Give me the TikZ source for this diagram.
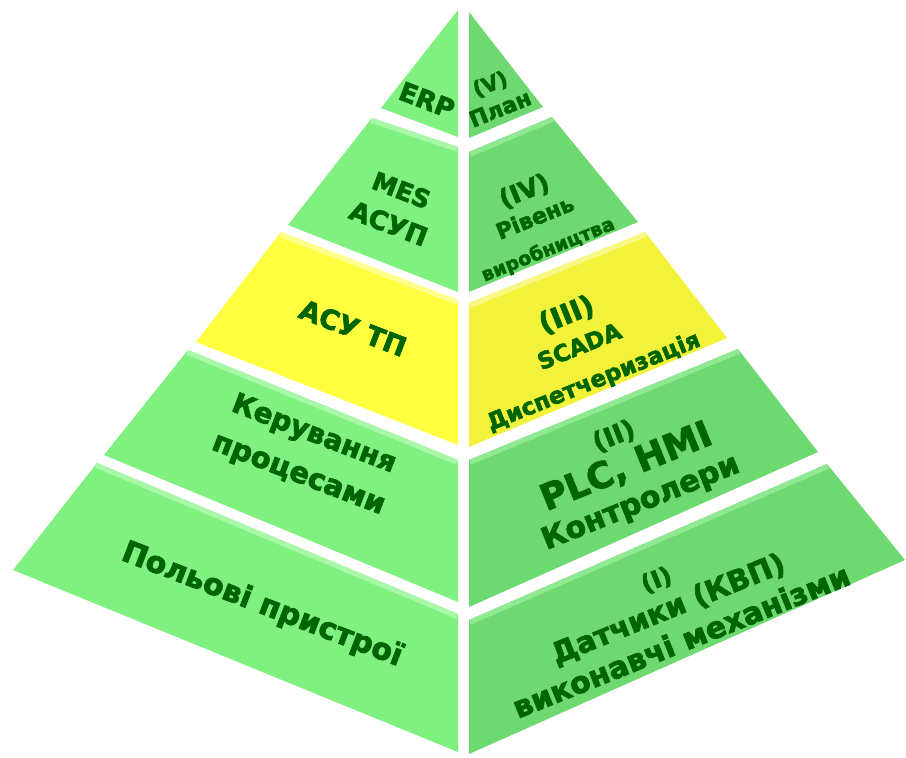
\documentclass[tikz,border=0pt]{standalone}
\usepackage{fontspec}
\setmainfont{DejaVu Sans}
\newfontfamily\heavy{DejaVu Sans}[BoldFeatures={FakeBold=2.5}]
\definecolor{gL}{HTML}{80F080}
\definecolor{gLb}{HTML}{A8F8A8}
\definecolor{gR}{HTML}{6DD970}
\definecolor{gRb}{HTML}{90E892}
\definecolor{yL}{HTML}{FFFF40}
\definecolor{yLb}{HTML}{FFFF90}
\definecolor{yR}{HTML}{F2F23A}
\definecolor{yRb}{HTML}{F8F886}
\definecolor{txt}{HTML}{006400}
\newcommand\fsz[1]{\fontsize{#1}{#1}\selectfont}
\newcommand\bskip[2]{\heavy\bfseries\fontsize{#1}{#2}\selectfont}
\newcommand\slab[6]{%
  \fill[#1] #3 -- #4 -- #5 -- #6 -- cycle;
  \begin{scope}
    \clip #3 -- #4 -- #5 -- #6 -- cycle;
    \draw[#2, line width=10pt] #3 -- #4;
  \end{scope}}
\tikzset{
  lbl/.style={inner sep=0pt, text=txt, align=center},
  lft/.style={lbl, rotate=-21},
  rgt/.style={lbl, rotate=22},
}
\begin{document}
\begin{tikzpicture}[x=1pt, y=-1pt]
\useasboundingbox (0,0) rectangle (906,758);
\fill[white] (0,0) rectangle (906,758);
% left face
\fill[gL] (458,10) -- (458,137) -- (381,108) -- cycle;
\slab{gL}{gLb}{(372,118)}{(458,147)}{(458,292)}{(288,225)}
\slab{yL}{yLb}{(281,232)}{(458,300)}{(458,445)}{(196,342)}
\slab{gL}{gLb}{(188,350)}{(458,460)}{(458,602)}{(104,455)}
\slab{gL}{gLb}{(97,463)}{(458,614)}{(458,752)}{(13,570)}
% right face
\fill[gR] (469,12) -- (543,107) -- (469,138) -- cycle;
\slab{gR}{gRb}{(469,152)}{(552,117)}{(638,222)}{(469,292)}
\slab{yR}{yRb}{(469,303)}{(645,232)}{(727,338)}{(469,447)}
\slab{gR}{gRb}{(469,460)}{(738,349)}{(818,452)}{(469,607)}
\slab{gR}{gRb}{(469,620)}{(827,464)}{(905,560)}{(469,754)}
% left labels
\node[lft, font=\bskip{26}{30}] (erp) at (427,100) {ERP};
\node[lft, font=\bskip{26}{36}] (mes) at (395,207) {\fsz{25}MES\\\fsz{26}АСУП};
\node[lft, font=\bskip{27}{32}] (asutp) at (353,328) {АСУ ТП};
\node[lft, font=\bskip{28}{43}] (ker) at (306,455) {\fsz{28}Керування\\\fsz{29}процесами};
\node[lft, font=\bskip{30}{36}] (pol) at (262,605) {Польові пристрої};
% right labels
\node[rgt, font=\bskip{21}{27}] (plan) at (495,96) {\fsz{21}(V)\\\fsz{22}План};
\node[rgt, font=\bskip{22}{28}] (riv) at (536,220) {\fsz{25}(IV)\\\fsz{22}Рівень\\[5pt]\fsz{19}виробництва};
\node[rgt, font=\bskip{23}{33}] (scada) at (580,348) {\fsz{28}(III)\\\fsz{23}SCADA\\[4pt]\fsz{23}Диспетчеризація};
\node[rgt, font=\bskip{30}{36}] (plc) at (628,471) {\fsz{26}(II)\\\fsz{36}PLC, HMI\\\fsz{30}Контролери};
\node[rgt, font=\bskip{29}{33}] (dat) at (669,611) {\fsz{24}(I)\\\fsz{29}Датчики (КВП)\\[3pt]\fsz{30}виконавчі механізми};
\end{tikzpicture}
\end{document}
